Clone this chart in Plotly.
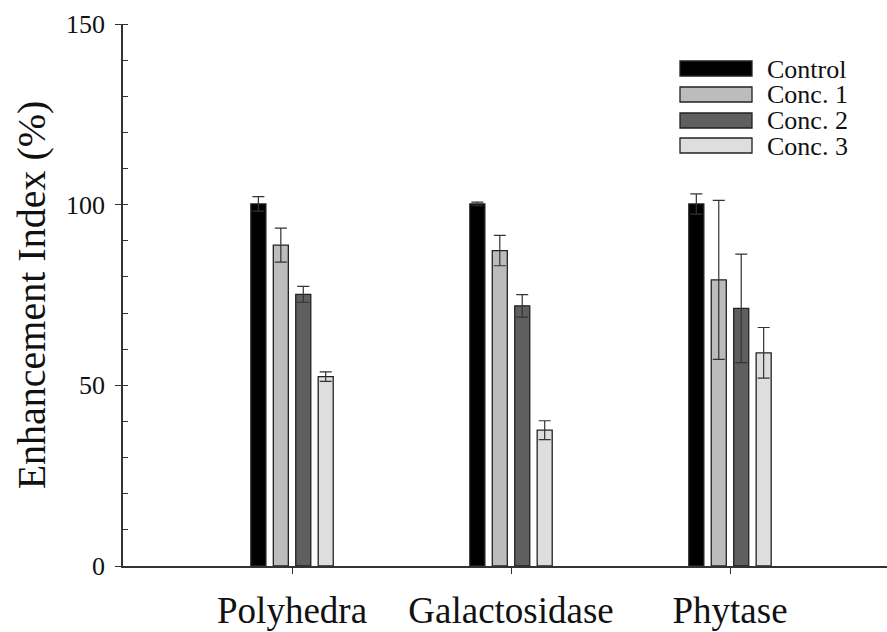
import plotly.graph_objects as go

categories = ["Polyhedra", "Galactosidase", "Phytase"]
series_names = ["Control", "Conc. 1", "Conc. 2", "Conc. 3"]
control = [100.2, 100.2, 100.2]
control_err = [2.0, 0.5, 2.8]
conc1 = [88.8, 87.3, 79.2]
conc1_err = [4.7, 4.2, 22.0]
conc2 = [75.2, 72.0, 71.3]
conc2_err = [2.2, 3.1, 15.0]
conc3 = [52.4, 37.6, 59.0]
conc3_err = [1.3, 2.6, 7.0]
y_ticks = [0, 50, 100, 150]

values = [control, conc1, conc2, conc3]
errors = [control_err, conc1_err, conc2_err, conc3_err]
colors = ["#000000", "#bcbcbc", "#5f5f5f", "#dedede"]

FONT = "Liberation Serif"

fig = go.Figure()
for name, v, e, c in zip(series_names, values, errors, colors):
    fig.add_trace(go.Bar(
        x=categories, y=v, name=name,
        marker=dict(color=c, line=dict(color="#222222", width=1.3)),
        error_y=dict(type="data", array=e, visible=True, color="#333333",
                     thickness=1.2, width=6),
        showlegend=False,
    ))

# Legend drawn as wide swatches + text (layout decoration)
L, R, T, B = 123, 887, 24, 566
W, H = R - L, B - T
def px(xp):
    return (xp - L) / W
def py(yp):
    return (B - yp) / H

shapes = []
annotations = []
leg_tops = [61, 87, 113, 138]
for name, c, top in zip(series_names, colors, leg_tops):
    shapes.append(dict(type="rect", xref="paper", yref="paper",
                       x0=px(680), x1=px(752), y0=py(top + 15), y1=py(top),
                       fillcolor=c, line=dict(color="#222222", width=1.3)))
    annotations.append(dict(xref="paper", yref="paper", x=px(765), y=py(top + 7.5),
                            text=name, showarrow=False, xanchor="left", yanchor="middle",
                            height=24, valign="middle",
                            font=dict(family=FONT, size=26, color="#111111")))

fig.update_layout(
    width=887, height=632, autosize=False,
    margin=dict(l=123, r=0, t=24, b=66),
    paper_bgcolor="white", plot_bgcolor="white",
    barmode="group", bargap=0.59, bargroupgap=0.33,
    font=dict(family=FONT, color="#111111"),
    shapes=shapes, annotations=annotations,
    xaxis=dict(
        range=[-0.772, 2.717], showline=True, linecolor="#333333", linewidth=1.5,
        ticks="outside", ticklen=6, tickcolor="#333333", tickwidth=1.2,
        tickfont=dict(family=FONT, size=37, color="#111111"),
        ticklabelstandoff=5, showgrid=False, zeroline=False, automargin=False,
    ),
    yaxis=dict(
        range=[0, 150], tickvals=y_ticks, showline=True, linecolor="#333333", linewidth=1.5,
        ticks="outside", ticklen=6, tickcolor="#333333", tickwidth=1.2,
        tickfont=dict(family=FONT, size=26, color="#111111"),
        ticklabelstandoff=5,
        minor=dict(ticks="inside", dtick=10, ticklen=5, tickcolor="#333333", tickwidth=1, showgrid=False),
        showgrid=False, zeroline=False, automargin=False,
        title=dict(text="Enhancement Index (%)", font=dict(family=FONT, size=40, color="#111111"), standoff=8),
    ),
)

fig.write_html(
    "out.html",
    config={"responsive": False, "displayModeBar": False},
    post_script="document.body.style.margin='0';document.body.style.overflow='hidden';",
)
